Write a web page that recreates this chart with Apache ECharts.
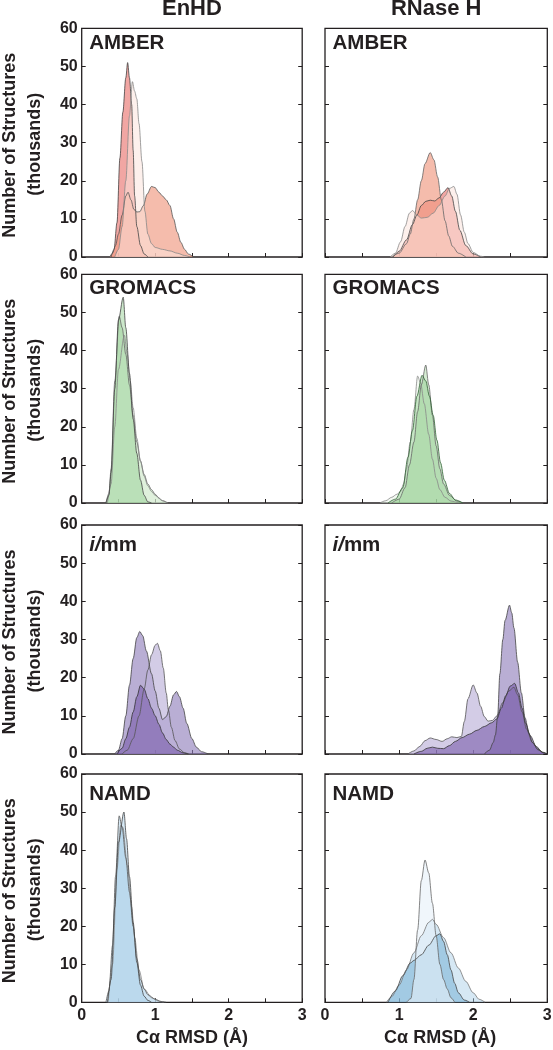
<!DOCTYPE html>
<html><head><meta charset="utf-8">
<script src="https://cdn.jsdelivr.net/npm/echarts@6/dist/echarts.min.js"></script>
<style>html,body{margin:0;padding:0;background:#fff}#c{width:553px;height:1050px}</style>
</head><body><div id="c"></div><script>
// ---------- labels ----------
const columnTitles = ['EnHD', 'RNase H'];
const forceFields = ['AMBER', 'GROMACS', '{it|i/}{n|mm}', 'NAMD'];
const xTickLabels = [0, 1, 2, 3];
const yTickLabels = [0, 10, 20, 30, 40, 50, 60];
const xTitle = 'C\u03b1 RMSD (\u00c5)';
const yTitle1 = 'Number of Structures';
const yTitle2 = '(thousands)';

// ---------- data: [RMSD (Å), structures (thousands)] ----------
// EnHD AMBER
const enhdAmberSalmon = [[0.38,0],[0.42,1],[0.46,3],[0.50,6],[0.55,11],[0.60,16],[0.63,17],[0.67,15],[0.71,12.5],[0.75,11.8],[0.79,11.9],[0.84,13.5],[0.89,16.5],[0.95,18.5],[1.00,18.2],[1.05,17],[1.10,16],[1.15,15],[1.20,13.5],[1.25,10],[1.30,6.5],[1.35,3.8],[1.40,2],[1.45,0.8],[1.52,0]];
const enhdAmberLight = [[0.45,0],[0.50,2],[0.55,8],[0.60,20],[0.65,37],[0.69,46],[0.72,43.5],[0.75,41.5],[0.78,35],[0.82,25],[0.86,12],[0.90,6],[0.95,3.5],[1.00,2.5],[1.10,2],[1.20,1.6],[1.30,1],[1.40,0.4],[1.47,0]];
const enhdAmberRed = [[0.40,0],[0.44,2],[0.48,9],[0.52,26],[0.56,38],[0.60,47],[0.625,51],[0.65,47],[0.68,40],[0.70,28],[0.72,16],[0.75,8],[0.80,3],[0.85,0.8],[0.90,0]];
// RNase H AMBER
const rnaseAmberSalmon = [[0.90,0],[1.00,1],[1.10,3.5],[1.15,6],[1.20,10],[1.25,15],[1.30,20],[1.35,24.5],[1.42,27.4],[1.47,25.5],[1.52,21],[1.57,15],[1.62,9.5],[1.67,5.5],[1.72,2.8],[1.80,1],[1.90,0]];
const rnaseAmberRed = [[0.92,0],[1.00,1.5],[1.10,4.5],[1.18,8.5],[1.24,11],[1.30,13.5],[1.36,14.6],[1.42,14.9],[1.48,14.7],[1.54,15.5],[1.60,17],[1.66,18.2],[1.71,16],[1.76,12],[1.82,7],[1.90,3],[2.00,0.8],[2.10,0]];
const rnaseAmberLight = [[0.88,0],[0.95,1],[1.02,4],[1.08,8],[1.14,11.5],[1.18,12.2],[1.24,11],[1.30,10.2],[1.38,10.4],[1.46,11.5],[1.54,13.5],[1.62,16],[1.68,18],[1.74,18.5],[1.78,16.5],[1.83,11],[1.88,6.5],[1.93,3.5],[2.00,1.2],[2.10,0.2],[2.15,0]];
// EnHD GROMACS
const enhdGroA = [[0.33,0],[0.37,2],[0.40,8],[0.45,30],[0.50,48],[0.565,54],[0.60,46],[0.65,34],[0.70,22],[0.75,13],[0.80,6],[0.85,2],[0.90,0.3],[0.95,0]];
const enhdGroB = [[0.33,0],[0.37,2.5],[0.40,9],[0.45,32],[0.51,49],[0.55,46],[0.60,39],[0.65,31],[0.70,23],[0.75,16],[0.80,11],[0.85,7.5],[0.90,5],[0.95,3.5],[1.00,2.3],[1.05,1.3],[1.10,0.6],[1.17,0]];
const enhdGroC = [[0.35,0],[0.40,5],[0.45,20],[0.50,35],[0.58,44],[0.62,39],[0.66,32],[0.70,25],[0.75,17],[0.80,11],[0.85,7],[0.90,4.5],[0.95,3],[1.00,2],[1.10,0.6],[1.17,0]];
// RNase H GROMACS
const rnaseGroA = [[0.74,0],[0.82,0.6],[0.90,1.5],[0.97,2.3],[1.02,3],[1.06,5],[1.10,9],[1.15,16],[1.20,24.5],[1.25,33.3],[1.29,31.5],[1.34,26],[1.40,18],[1.45,11.5],[1.50,6.5],[1.55,3.5],[1.62,1.5],[1.70,0.5],[1.80,0]];
const rnaseGroB = [[0.90,0],[1.00,1],[1.08,4],[1.14,10],[1.20,16],[1.25,24],[1.30,31],[1.36,36.2],[1.40,31],[1.45,23],[1.50,15],[1.55,9],[1.60,5],[1.68,2],[1.78,0.5],[1.86,0]];
const rnaseGroC = [[0.85,0],[0.95,1],[1.05,4],[1.12,12],[1.18,19],[1.24,28],[1.31,33.5],[1.36,32],[1.41,28],[1.46,23],[1.51,16.5],[1.56,10.5],[1.61,6],[1.68,2.5],[1.76,0.8],[1.86,0]];
// EnHD ilmm
const enhdIlmmA = [[0.45,0],[0.50,1],[0.55,4],[0.60,10],[0.65,18],[0.70,25],[0.75,30.5],[0.79,32.1],[0.83,31],[0.88,27],[0.95,21],[1.00,16.5],[1.05,12],[1.10,9],[1.15,9.8],[1.20,12.5],[1.25,15.5],[1.29,16.4],[1.33,15],[1.38,12],[1.43,8],[1.50,4],[1.56,1.8],[1.63,0.6],[1.72,0]];
const enhdIlmmB = [[0.55,0],[0.62,1],[0.70,4],[0.78,10],[0.85,17],[0.90,22],[0.95,26],[1.00,28.5],[1.03,29],[1.07,27],[1.11,22.5],[1.15,16],[1.18,11.5],[1.22,7],[1.27,3.5],[1.33,1.3],[1.40,0.3],[1.46,0]];
const enhdIlmmC = [[0.48,0],[0.55,1.5],[0.60,4],[0.65,7],[0.70,11],[0.75,15],[0.80,18],[0.85,17],[0.90,14.5],[0.95,12],[1.00,10],[1.05,7.8],[1.10,5.5],[1.15,3.8],[1.20,2.6],[1.25,1.8],[1.30,1],[1.38,0.3],[1.45,0]];
// RNase H ilmm
const rnaseIlmmA = [[2.15,0],[2.22,1],[2.27,3],[2.30,5],[2.33,10],[2.36,21],[2.40,30],[2.43,35],[2.49,39],[2.52,37],[2.55,33],[2.60,24],[2.65,16],[2.70,9.5],[2.75,5.5],[2.80,3],[2.87,1.3],[2.95,0.3],[3.00,0]];
const rnaseIlmmB = [[1.12,0],[1.20,0.8],[1.28,2],[1.35,3.5],[1.42,4.2],[1.50,3.8],[1.58,3.3],[1.65,4],[1.71,4.5],[1.78,4.3],[1.84,4.6],[1.88,8.5],[1.93,14.5],[2.00,18.1],[2.05,16],[2.10,12.5],[2.15,9.8],[2.20,8.6],[2.26,8.8],[2.32,10],[2.40,13.5],[2.48,16.5],[2.55,17.5],[2.60,15.5],[2.66,11],[2.72,6.5],[2.80,3],[2.88,1],[2.96,0.2],[3.00,0]];
const rnaseIlmmC = [[1.20,0],[1.30,0.7],[1.38,1.5],[1.45,1.8],[1.52,1.5],[1.60,1.4],[1.68,2.2],[1.76,3.3],[1.85,4.3],[1.95,5.2],[2.05,6.2],[2.15,7.2],[2.25,8.2],[2.32,9.2],[2.38,12],[2.44,15.3],[2.50,17.8],[2.56,18.5],[2.61,16],[2.66,12],[2.71,8],[2.77,4.8],[2.85,2],[2.93,0.5],[3.00,0]];
// EnHD NAMD
const enhdNamdA = [[0.33,0],[0.37,3],[0.42,15],[0.46,33],[0.51,49],[0.55,46],[0.60,38],[0.65,29],[0.70,20],[0.75,11.5],[0.80,6],[0.85,3.5],[0.90,2],[1.00,0.8],[1.08,0.2],[1.15,0]];
const enhdNamdB = [[0.35,0],[0.40,6],[0.45,25],[0.50,42],[0.575,50],[0.61,43],[0.65,33],[0.70,21],[0.75,10.5],[0.80,4.5],[0.85,1.6],[0.90,0.5],[0.95,0]];
const enhdNamdC = [[0.36,0],[0.42,10],[0.48,35],[0.53,46.5],[0.56,46],[0.62,36],[0.68,25],[0.72,17],[0.78,8.5],[0.85,3.5],[0.95,1.2],[1.05,0.3],[1.12,0]];
// RNase H NAMD
const rnaseNamdA = [[1.10,0],[1.16,1],[1.20,6],[1.25,19],[1.30,32],[1.35,37.4],[1.40,34],[1.45,26],[1.50,17.5],[1.55,10],[1.60,6],[1.65,3.5],[1.70,1.2],[1.75,0]];
const rnaseNamdB = [[0.83,0],[0.90,1.5],[1.00,4.5],[1.10,8.5],[1.20,13],[1.30,17.5],[1.40,21],[1.45,21.8],[1.50,20.5],[1.60,17],[1.70,13],[1.80,9],[1.90,5.5],[2.00,2.5],[2.08,0.8],[2.16,0]];
const rnaseNamdC = [[0.85,0],[0.95,3],[1.05,7],[1.15,10.3],[1.20,11],[1.30,12.5],[1.40,15],[1.50,17.5],[1.55,18],[1.60,16],[1.65,12.5],[1.70,8.5],[1.75,5],[1.80,2.5],[1.88,0.6],[1.95,0]];

// ---------- styling ----------
const FONT = '"Liberation Sans", Arial, Helvetica, sans-serif';
const INK = '#231f20';
// [fill colour, fill opacity]
const pal = {
  amberRed: ['#e86a66', 0.6], amberSalmon: ['#f09c84', 0.68], amberLight: ['#fbe4dd', 0.55],
  groDark: ['#8fcb8b', 0.45], groMid: ['#a3d59e', 0.45], groLight: ['#e8f4e5', 0.5],
  ilDark: ['#7254a6', 0.55], ilMid: ['#8e7db9', 0.62], ilLight: ['#bcb0d8', 0.65],
  naDark: ['#78b0d6', 0.55], naMid: ['#a4cce6', 0.45], naLight: ['#e6f0f8', 0.6]
};

const panels = [
  {row:0,col:0,series:[[enhdAmberRed,pal.amberRed,'#444'],[enhdAmberSalmon,pal.amberSalmon,'#555'],[enhdAmberLight,pal.amberLight,'#888']]},
  {row:0,col:1,series:[[rnaseAmberRed,pal.amberRed,'#444'],[rnaseAmberSalmon,pal.amberSalmon,'#666'],[rnaseAmberLight,pal.amberLight,'#888']]},
  {row:1,col:0,series:[[enhdGroB,pal.groMid,'#666'],[enhdGroC,pal.groLight,'#888'],[enhdGroA,pal.groDark,'#444']]},
  {row:1,col:1,series:[[rnaseGroA,pal.groLight,'#888'],[rnaseGroB,pal.groMid,'#666'],[rnaseGroC,pal.groDark,'#2f5f33']]},
  {row:2,col:0,series:[[enhdIlmmA,pal.ilMid,'#444'],[enhdIlmmB,pal.ilLight,'#555'],[enhdIlmmC,pal.ilDark,'#333']]},
  {row:2,col:1,series:[[rnaseIlmmB,pal.ilLight,'#555'],[rnaseIlmmA,pal.ilMid,'#444'],[rnaseIlmmC,pal.ilDark,'#333']]},
  {row:3,col:0,series:[[enhdNamdC,pal.naLight,'#888'],[enhdNamdA,pal.naMid,'#555'],[enhdNamdB,pal.naMid,'#444']]},
  {row:3,col:1,series:[[rnaseNamdB,pal.naMid,'#777'],[rnaseNamdC,pal.naDark,'#444'],[rnaseNamdA,pal.naLight,'#666']]}
];

const colLeft = [81.7, 325];
const colWidth = [220.5, 222.3];
const rowTop = [28.3, 274.3, 525, 774];
const rowHeight = [228.7, 228.7, 229, 228.3];
const labelCenterY = [43.5, 288.2, 545, 794];

const grid = [], xAxis = [], yAxis = [], series = [], graphic = [];
panels.forEach((p, i) => {
  grid.push({left: colLeft[p.col], top: rowTop[p.row], width: colWidth[p.col], height: rowHeight[p.row],
    show: true, borderColor: INK, borderWidth: 1.3, backgroundColor: 'rgba(0,0,0,0)',
    containLabel: false, outerBoundsMode: 'none'});
  const bottomRow = p.row === 3;
  xAxis.push({type: 'value', gridIndex: i, min: xTickLabels[0], max: xTickLabels[xTickLabels.length - 1], interval: 0.5,
    axisLine: {show: false}, splitLine: {show: false},
    axisTick: {show: true, inside: true, length: 4, lineStyle: {color: INK, width: 1}},
    axisLabel: {show: bottomRow, margin: 5, color: INK, fontFamily: FONT, fontWeight: 'bold', fontSize: 16,
      formatter: v => (xTickLabels.indexOf(v) >= 0 ? String(v) : '')}});
  const yBase = {type: 'value', gridIndex: i, min: yTickLabels[0], max: yTickLabels[yTickLabels.length - 1], interval: 10,
    axisLine: {show: false}, splitLine: {show: false},
    axisTick: {show: true, inside: true, length: 4, lineStyle: {color: INK, width: 1}}};
  yAxis.push(Object.assign({}, yBase, {position: 'left',
    axisLabel: {show: p.col === 0, margin: 4, color: INK, fontFamily: FONT, fontWeight: 'bold', fontSize: 16}}));
  yAxis.push(Object.assign({}, yBase, {position: 'right', axisLabel: {show: false}}));
  p.series.forEach(([data, fill, line]) => {
    series.push({type: 'line', xAxisIndex: i, yAxisIndex: 2 * i, data: data, symbol: 'none', showSymbol: false,
      smooth: 0.3, smoothMonotone: 'x', silent: true,
      lineStyle: {color: line, width: 1, opacity: 0.8},
      areaStyle: {color: fill[0], opacity: fill[1]}});
  });
  graphic.push({type: 'text', x: colLeft[p.col] + 7.5, y: labelCenterY[p.row], z: 100,
    style: {text: forceFields[p.row], fill: INK, font: 'bold 20.5px ' + FONT, verticalAlign: 'middle', align: 'left',
      rich: {it: {fontStyle: 'italic', fontWeight: 'bold', fontSize: 20.5, fontFamily: FONT, fill: INK},
             n: {fontWeight: 'bold', fontSize: 20.5, fontFamily: FONT, fill: INK}}}});
});

columnTitles.forEach((t, c) => {
  graphic.push({type: 'text', x: colLeft[c] + colWidth[c] / 2, y: 8.5,
    style: {text: t, fill: INK, font: 'bold 22px ' + FONT, align: 'center', verticalAlign: 'middle'}});
  graphic.push({type: 'text', x: colLeft[c] + colWidth[c] / 2 + (c === 1 ? 4 : 0), y: 1038,
    style: {text: xTitle, fill: INK, font: 'bold 18px ' + FONT, align: 'center', verticalAlign: 'middle'}});
});
rowTop.forEach((t, r) => {
  const cy = t + rowHeight[r] / 2 + 2.5;
  graphic.push({type: 'text', x: 10, y: cy, rotation: Math.PI / 2,
    style: {text: yTitle1, fill: INK, font: 'bold 18px ' + FONT, align: 'center', verticalAlign: 'middle'}});
  graphic.push({type: 'text', x: 35, y: cy - 1, rotation: Math.PI / 2,
    style: {text: yTitle2, fill: INK, font: 'bold 18px ' + FONT, align: 'center', verticalAlign: 'middle'}});
});

const chart = echarts.init(document.getElementById('c'), null, {renderer: 'canvas'});
chart.setOption({animation: false, backgroundColor: '#fff', grid, xAxis, yAxis, series, graphic});
</script></body></html>
